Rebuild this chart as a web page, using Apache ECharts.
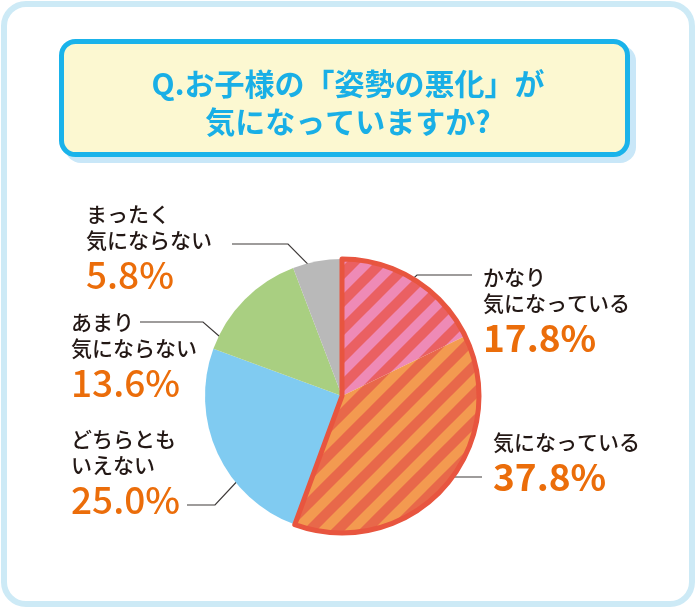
<!DOCTYPE html>
<html>
<head>
<meta charset="utf-8">
<script src="https://cdn.jsdelivr.net/npm/echarts@6/dist/echarts.min.js"></script>
<style>
  html, body { margin: 0; padding: 0; background: #fff; }
  #main { width: 696px; height: 610px; }
</style>
</head>
<body>
<div id="main"></div>
<script>
// answers, clockwise from 12 o'clock
var names = ['かなり\n気になっている', '気になっている', 'どちらとも\nいえない', 'あまり\n気にならない', 'まったく\n気にならない'];
var values = [17.8, 37.8, 25.0, 13.6, 5.8];
var colors = ['#ee8ab6', '#f39a50', '#80cbf1', '#a9cf81', '#b9b9b9'];
var stripeColors = ['#ea6062', '#e8684a'];
var title = 'Q.お子様の「姿勢の悪化」が\n気になっていますか?';

var FONT = '"Noto Sans CJK JP", "Noto Sans", sans-serif';
var CX = 342, CY = 396, R = 137;

// label boxes and leader lines (t = position across slice, rf = radius fraction)
var spots = [
  { x: 483, y: 264, t: 0.43, rf: 0.83, elbow: [417, 275], end: [472, 275], bold: true },
  { x: 493, y: 429, t: 0.43, rf: 0.69, elbow: [452, 477], end: [482, 477], bold: true },
  { x: 71, y: 426, t: 0.35, rf: 0.90, elbow: [215, 505], end: [187, 505] },
  { x: 71, y: 309, t: 0.10, rf: 0.94, elbow: [203, 322], end: [140, 322] },
  { x: 86, y: 201, t: 0.56, rf: 0.86, elbow: [288, 244], end: [232, 244] }
];

var DPR = window.devicePixelRatio || 1;

function stripes(bg, fg) {
  var s = Math.round(28 * DPR), c = document.createElement('canvas');
  c.width = c.height = s;
  var g = c.getContext('2d');
  g.fillStyle = bg; g.fillRect(0, 0, s, s);
  g.strokeStyle = fg; g.lineWidth = 10 * DPR;
  [-1, 0, 1].forEach(function (k) {
    // "/" band, drawn past the tile so the ends are not cut
    g.beginPath(); g.moveTo(k * s - s, 2 * s); g.lineTo(k * s + 2 * s, -s); g.stroke();
  });
  return c;
}

var total = values.reduce(function (a, b) { return a + b; }, 0);
var cum = [0];
values.forEach(function (v, i) { cum.push(cum[i] + v); });

function anchor(i) {
  var sp = spots[i];
  var a = (cum[i] + values[i] * sp.t) / total * Math.PI * 2;
  return [CX + Math.sin(a) * R * sp.rf, CY - Math.cos(a) * R * sp.rf];
}

var pieData = values.map(function (v, i) {
  var item = { name: names[i], value: v, itemStyle: { color: colors[i] } };
  if (i < 2) item.itemStyle.color = { image: stripes(colors[i], stripeColors[i]), repeat: 'repeat' };
  return item;
});

var chart = echarts.init(document.getElementById('main'));
chart.setOption({
  backgroundColor: '#fff',
  animation: false,
  graphic: [
    { type: 'rect', shape: { x: 4, y: 4, width: 688, height: 600, r: 22 },
      style: { fill: '#fff', stroke: '#cdeaf6', lineWidth: 6 } },
    { type: 'rect', shape: { x: 65, y: 45, width: 571, height: 118, r: 16 },
      style: { fill: '#c9e7f8' } },
    { type: 'rect', shape: { x: 61.5, y: 41.5, width: 566, height: 113, r: 14 },
      style: { fill: '#fcf8d1', stroke: '#1ab3ea', lineWidth: 5 } }
  ],
  title: {
    text: title,
    left: 'center',
    top: 60,
    textStyle: { fontFamily: FONT, fontSize: 30, fontWeight: 'bold', color: '#19afe6', lineHeight: 38 }
  },
  series: [
    {
      type: 'pie',
      center: [CX, CY],
      radius: R,
      startAngle: 90,
      clockwise: true,
      avoidLabelOverlap: false,
      emphasis: { disabled: true },
      itemStyle: { borderWidth: 0 },
      label: {
        show: true,
        position: 'outside',
        fontFamily: FONT,
        formatter: function (p) {
          var lines = p.name.split('\n').map(function (s) { return '{n|' + s + '}'; });
          var pc = spots[p.dataIndex].bold ? 'pb' : 'pl';
          lines.push('{' + pc + '|' + p.value.toFixed(1) + '%}');
          return lines.join('\n');
        },
        rich: {
          n: { fontFamily: FONT, fontSize: 21, lineHeight: 26, fontWeight: 500, color: '#231815' },
          pb: { fontFamily: FONT, fontSize: 37, lineHeight: 44, fontWeight: 'bold', color: '#eb6d0a' },
          pl: { fontFamily: FONT, fontSize: 37, lineHeight: 44, fontWeight: 500, color: '#eb6d0a' }
        }
      },
      labelLine: { show: true, smooth: false, lineStyle: { color: '#3e3a39', width: 1.2 } },
      labelLayout: function (params) {
        var sp = spots[params.dataIndex];
        return {
          x: sp.x, y: sp.y, align: 'left', verticalAlign: 'top',
          labelLinePoints: [anchor(params.dataIndex), sp.elbow, sp.end]
        };
      },
      data: pieData
    },
    {
      // red outline around the two "気になっている" answers
      type: 'pie',
      center: [CX, CY],
      radius: R,
      startAngle: 90,
      clockwise: true,
      silent: true,
      emphasis: { disabled: true },
      label: { show: false },
      labelLine: { show: false },
      data: [
        { value: values[0] + values[1], itemStyle: { color: 'rgba(0,0,0,0)', borderColor: '#e8553f', borderWidth: 5 } },
        { value: total - values[0] - values[1], itemStyle: { color: 'rgba(0,0,0,0)', borderWidth: 0 } }
      ]
    }
  ]
});
</script>
</body>
</html>
